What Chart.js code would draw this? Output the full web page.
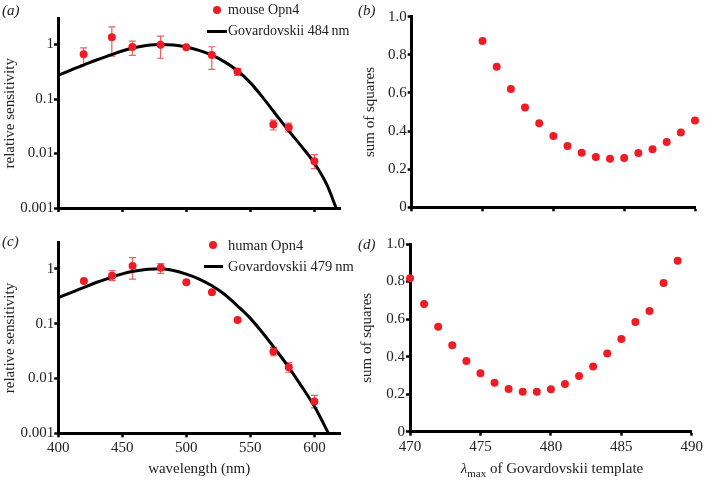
<!DOCTYPE html>
<html>
<head>
<meta charset="utf-8">
<script src="https://cdn.jsdelivr.net/npm/chart.js@4.4.0/dist/chart.umd.min.js"></script>
<style>
  body { margin: 0; background: #fff; }
  #wrap { position: relative; width: 705px; height: 483px; overflow: hidden; font-family: "Liberation Serif", "Times New Roman", serif; color: #222; }
  canvas { position: absolute; }
  .lbl { position: absolute; font-size: 15px; font-style: italic; line-height: 1; }
  .leg { position: absolute; font-size: 14.5px; line-height: 1; white-space: nowrap; }
  .dot { position: absolute; width: 8px; height: 8px; border-radius: 50%; background: #ee1c25; }
  .bar { position: absolute; height: 3px; background: #000; }
  .xt { position: absolute; font-size: 15px; line-height: 1; text-align: center; white-space: nowrap; }
  .xt sub { font-size: 11px; vertical-align: -4px; line-height: 0; }
</style>
</head>
<body>
<div id="wrap">
  <canvas id="chartA" width="352" height="230" style="left:0;top:0"></canvas>
  <canvas id="chartB" width="345" height="230" style="left:360px;top:0"></canvas>
  <canvas id="chartC" width="352" height="253" style="left:0;top:230px"></canvas>
  <canvas id="chartD" width="345" height="253" style="left:360px;top:230px"></canvas>

  <div class="lbl" style="left:2px;top:3px">(a)</div>
  <div class="lbl" style="left:358px;top:3px">(b)</div>
  <div class="lbl" style="left:2px;top:234px">(c)</div>
  <div class="lbl" style="left:358px;top:237px">(d)</div>

  <div class="dot" style="left:213px;top:6px"></div>
  <div class="leg" style="left:228px;top:3px;font-size:14px">mouse Opn4</div>
  <div class="bar" style="left:207px;top:30px;width:20px"></div>
  <div class="leg" style="left:228px;top:24px;font-size:14px">Govardovskii 484&#8201;nm</div>

  <div class="dot" style="left:209px;top:241px"></div>
  <div class="leg" style="left:228px;top:238px">human Opn4</div>
  <div class="bar" style="left:204px;top:265px;width:19px"></div>
  <div class="leg" style="left:228px;top:259px">Govardovskii 479&#8201;nm</div>

  <div class="xt" style="left:410px;width:284px;top:461px"><i>λ</i><sub>max</sub> of Govardovskii template</div>
</div>
<script>
// measured wavelengths (nm) and relative sensitivity, panels (a) and (c)
const wavelengths = [420, 442, 458, 480, 500, 520, 540, 568, 580, 600];
const mouseSens = [0.66, 1.36, 0.90, 0.99, 0.89, 0.64, 0.32, 0.034, 0.030, 0.0072];
const mouseHi = [0.87, 2.1, 1.15, 1.42, null, 0.91, 0.36, 0.041, 0.036, 0.0095];
const mouseLo = [0.43, 0.61, 0.63, 0.56, null, 0.35, 0.27, 0.027, 0.025, 0.0053];
const humanSens = [0.60, 0.75, 1.13, 1.05, 0.57, 0.376, 0.117, 0.031, 0.016, 0.0038];
const humanHi = [null, 0.93, 1.6, 1.25, null, null, null, 0.037, 0.0195, 0.0049];
const humanLo = [null, 0.61, 0.65, 0.83, null, null, null, 0.026, 0.013, 0.0029];

// Govardovskii template curves
const tmpl484Wl = [400, 410, 420, 430, 440, 450, 460, 470, 480, 490, 500, 510, 520, 530, 540, 550, 560, 570, 580, 590, 600, 610, 617];
const tmpl484 = [0.27, 0.34, 0.42, 0.52, 0.63, 0.76, 0.88, 0.97, 1.0, 0.98, 0.90, 0.78, 0.64, 0.48, 0.33, 0.20, 0.105, 0.052, 0.026, 0.0135, 0.0067, 0.0026, 0.001];
const tmpl479Wl = [400, 410, 420, 430, 440, 450, 460, 470, 480, 490, 500, 510, 520, 530, 540, 550, 560, 570, 580, 590, 600, 611];
const tmpl479 = [0.30, 0.37, 0.46, 0.57, 0.68, 0.81, 0.91, 0.98, 1.0, 0.93, 0.80, 0.65, 0.49, 0.34, 0.21, 0.125, 0.066, 0.033, 0.016, 0.0072, 0.0031, 0.001];

// sum of squares vs lambda max, panels (b) and (d)
const lmaxMouse = [475, 476, 477, 478, 479, 480, 481, 482, 483, 484, 485, 486, 487, 488, 489, 490];
const ssMouse = [0.872, 0.738, 0.621, 0.523, 0.441, 0.374, 0.322, 0.286, 0.264, 0.255, 0.259, 0.285, 0.304, 0.343, 0.393, 0.456];
const lmaxHuman = [470, 471, 472, 473, 474, 475, 476, 477, 478, 479, 480, 481, 482, 483, 484, 485, 486, 487, 488, 489];
const ssHuman = [0.817, 0.680, 0.559, 0.460, 0.377, 0.311, 0.261, 0.227, 0.213, 0.213, 0.226, 0.254, 0.297, 0.348, 0.416, 0.494, 0.584, 0.643, 0.792, 0.911];

// tick labels
const wlTicks = [400, 450, 500, 550, 600];
const sensTicks = [0.001, 0.01, 0.1, 1];
const lmaxTicks = [470, 475, 480, 485, 490];
const ssTicks = [0, 0.2, 0.4, 0.6, 0.8, 1.0];

Chart.defaults.font.family = '"Liberation Serif", "Times New Roman", serif';
Chart.defaults.font.size = 15;
Chart.defaults.color = '#222';

const RED = '#ee1c25';
const pts = (xs, ys) => xs.map((x, i) => ({ x: x, y: ys[i] }));

// error bars, drawn under the points
const errorBars = {
    id: 'errorBars',
    beforeDatasetsDraw(chart, args, opts) {
        if (!opts.x) return;
        const { ctx, scales: { x, y } } = chart;
        ctx.save();
        ctx.strokeStyle = '#f25c5c';
        ctx.lineWidth = 1.2;
        opts.x.forEach((xv, i) => {
            if (opts.hi[i] == null) return;
            const px = x.getPixelForValue(xv);
            const top = y.getPixelForValue(opts.hi[i]);
            const bot = y.getPixelForValue(opts.lo[i]);
            ctx.beginPath();
            ctx.moveTo(px, top); ctx.lineTo(px, bot);
            ctx.moveTo(px - 3.5, top); ctx.lineTo(px + 3.5, top);
            ctx.moveTo(px - 3.5, bot); ctx.lineTo(px + 3.5, bot);
            ctx.stroke();
        });
        ctx.restore();
    }
};

const axisGrid = { drawOnChartArea: false, drawTicks: true, tickLength: 4, tickWidth: 2.5, tickColor: '#000' };
const axisBorder = { display: true, width: 3, color: '#000' };

function xScale(min, max, tickVals, height, showLabels, title) {
    return {
        type: 'linear', min: min, max: max,
        grid: axisGrid, border: axisBorder,
        afterBuildTicks: s => { s.ticks = tickVals.map(v => ({ value: v })); },
        afterFit: s => { s.height = height; },
        ticks: { display: showLabels, padding: 2, maxRotation: 0 },
        title: title ? { display: true, text: title, padding: { top: 0, bottom: 5 } } : { display: false }
    };
}

function yLog(width) {
    return {
        type: 'logarithmic', min: 0.001, max: 3,
        grid: axisGrid, border: axisBorder,
        afterBuildTicks: s => { s.ticks = sensTicks.map(v => ({ value: v })); },
        afterFit: s => { s.width = width; },
        ticks: { padding: 0, callback: v => String(v) },
        title: { display: true, text: 'relative sensitivity', padding: { top: 1, bottom: 0 } }
    };
}

function yLin(width, titlePad) {
    return {
        type: 'linear', min: 0, max: 1,
        grid: axisGrid, border: axisBorder,
        afterBuildTicks: s => { s.ticks = ssTicks.map(v => ({ value: v })); },
        afterFit: s => { s.width = width; },
        ticks: { padding: 1, callback: v => (v === 0 ? '0' : v.toFixed(1)) },
        title: { display: true, text: 'sum of squares', padding: { top: titlePad, bottom: 0 } }
    };
}

function sensChart(id, sens, hi, lo, tWl, tVals, pad, yWidth, xHeight, xTitle) {
    return new Chart(document.getElementById(id), {
        type: 'scatter',
        data: {
            datasets: [
                { data: pts(wavelengths, sens), backgroundColor: RED, borderColor: RED, pointRadius: 4, pointBorderWidth: 0, clip: false },
                { data: pts(tWl, tVals), showLine: true, borderColor: '#000', borderWidth: 3, pointRadius: 0, cubicInterpolationMode: 'monotone' }
            ]
        },
        options: {
            responsive: false, animation: false,
            layout: { padding: pad },
            plugins: { legend: { display: false }, tooltip: { enabled: false }, errorBars: { x: wavelengths, hi: hi, lo: lo } },
            scales: { x: xScale(400, 620, wlTicks, xHeight, !!xTitle, xTitle), y: yLog(yWidth) }
        },
        plugins: [errorBars]
    });
}

function ssChart(id, xs, ys, pad, yWidth, xHeight, showLabels, titlePad) {
    return new Chart(document.getElementById(id), {
        type: 'scatter',
        data: { datasets: [{ data: pts(xs, ys), backgroundColor: RED, borderColor: RED, pointRadius: 4, pointBorderWidth: 0, clip: false }] },
        options: {
            responsive: false, animation: false,
            layout: { padding: pad },
            plugins: { legend: { display: false }, tooltip: { enabled: false } },
            scales: { x: xScale(470, 490, lmaxTicks, xHeight, showLabels, null), y: yLin(yWidth, titlePad) }
        }
    });
}

const chartA = sensChart('chartA', mouseSens, mouseHi, mouseLo, tmpl484Wl, tmpl484,
    { top: 18.5, right: 12, bottom: 0, left: 0 }, 58, 22, null);
const chartC = sensChart('chartC', humanSens, humanHi, humanLo, tmpl479Wl, tmpl479,
    { top: 12.7, right: 12, bottom: 0, left: 0 }, 58.3, 49.7, 'wavelength (nm)');
const chartB = ssChart('chartB', lmaxMouse, ssMouse, { top: 16.7, right: 10, bottom: 0, left: 0 }, 51.7, 22.7, false, 1);
const chartD = ssChart('chartD', lmaxHuman, ssHuman, { top: 14, right: 11.7, bottom: 0, left: 0 }, 50, 51.3, true, -2);
</script>
</body>
</html>
